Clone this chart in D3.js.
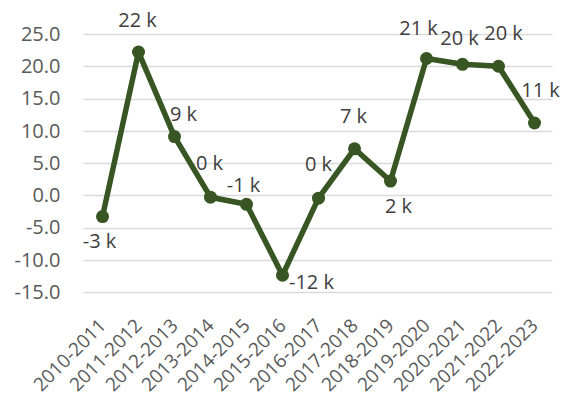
<!DOCTYPE html>
<html>
<head>
<meta charset="utf-8">
<script src="https://cdn.jsdelivr.net/npm/d3@7"></script>
<style>
  html, body { margin: 0; padding: 0; background: #fff; }
  svg { display: block; }
  text { font-family: "Open Sans", sans-serif; }
</style>
</head>
<body>
<svg id="chart" width="563" height="402"></svg>
<script>
// ---- data ----
const categories = ["2010-2011","2011-2012","2012-2013","2013-2014","2014-2015","2015-2016","2016-2017","2017-2018","2018-2019","2019-2020","2020-2021","2021-2022","2022-2023"];
const values = [-3.3, 22.2, 9.1, -0.3, -1.4, -12.4, -0.45, 7.2, 2.2, 21.2, 20.3, 20.0, 11.2];
const yTicks = [-15, -10, -5, 0, 5, 10, 15, 20, 25];
// label placement (offset from the point, pixels) — layout only
const labelOffsets = [[-3,24],[-1,-32],[9,-23],[-1,-34],[-3,-19],[29,7],[0,-34],[-1,-33],[8,25],[-8,-31],[-3,-26],[5,-33],[6,-33]];

const svg = d3.select("#chart");
const margin = { left: 84.5, right: 10.5 };
const W = 563;

const x = d3.scaleBand().domain(categories).range([margin.left, W - margin.right]).padding(0);
const y = d3.scaleLinear().domain([-15, 25]).range([292, 34]);

const hyphen = s => s.replace(/\u2212/g, "-");
const fmtTick = d => hyphen(d3.format(".1f")(d));
const fmtLabel = d => { let r = Math.round(Math.abs(d)) * Math.sign(d); if (r === 0) r = 0; return String(r) + " k"; };

// gridlines
svg.append("g").selectAll("line").data(yTicks).join("line")
  .attr("x1", margin.left - 1).attr("x2", W - margin.right)
  .attr("y1", d => Math.round(y(d)) + 0.5).attr("y2", d => Math.round(y(d)) + 0.5)
  .attr("stroke", "#d9d9d9").attr("stroke-width", 1.5);

// y axis
const yAxis = svg.append("g").attr("transform", `translate(${margin.left},0)`)
  .call(d3.axisLeft(y).tickValues(yTicks).tickFormat(fmtTick).tickSize(0).tickPadding(24));
yAxis.select(".domain").remove();
yAxis.selectAll("text").attr("font-size", 20).attr("fill", "#595959")
  .attr("font-family", "'Open Sans', sans-serif");

// x axis labels
const xAxis = svg.append("g").attr("transform", `translate(0,${y(-15)})`)
  .call(d3.axisBottom(x).tickSize(0).tickPadding(0));
xAxis.select(".domain").remove();
xAxis.selectAll("text")
  .attr("font-size", 19).attr("fill", "#595959")
  .attr("font-family", "'Open Sans', sans-serif")
  .attr("text-anchor", "end")
  .attr("dy", "0.35em")
  .attr("transform", "translate(0,30) rotate(-45)");

const cx = d => x(d) + x.bandwidth() / 2;

// line
const line = d3.line().x((d, i) => cx(categories[i])).y(d => y(d));
svg.append("path").datum(values)
  .attr("d", line).attr("fill", "none")
  .attr("stroke", "#375623").attr("stroke-width", 5.5)
  .attr("stroke-linejoin", "round");

// markers
svg.append("g").selectAll("circle").data(values).join("circle")
  .attr("cx", (d, i) => cx(categories[i])).attr("cy", d => y(d))
  .attr("r", 6.5).attr("fill", "#375623");

// data labels
svg.append("g").selectAll("text").data(values).join("text")
  .attr("x", (d, i) => cx(categories[i]) + labelOffsets[i][0])
  .attr("y", (d, i) => y(d) + labelOffsets[i][1])
  .attr("dy", "0.35em")
  .attr("text-anchor", "middle")
  .attr("font-size", 20).attr("fill", "#404040")
  .text(fmtLabel);
</script>
</body>
</html>
